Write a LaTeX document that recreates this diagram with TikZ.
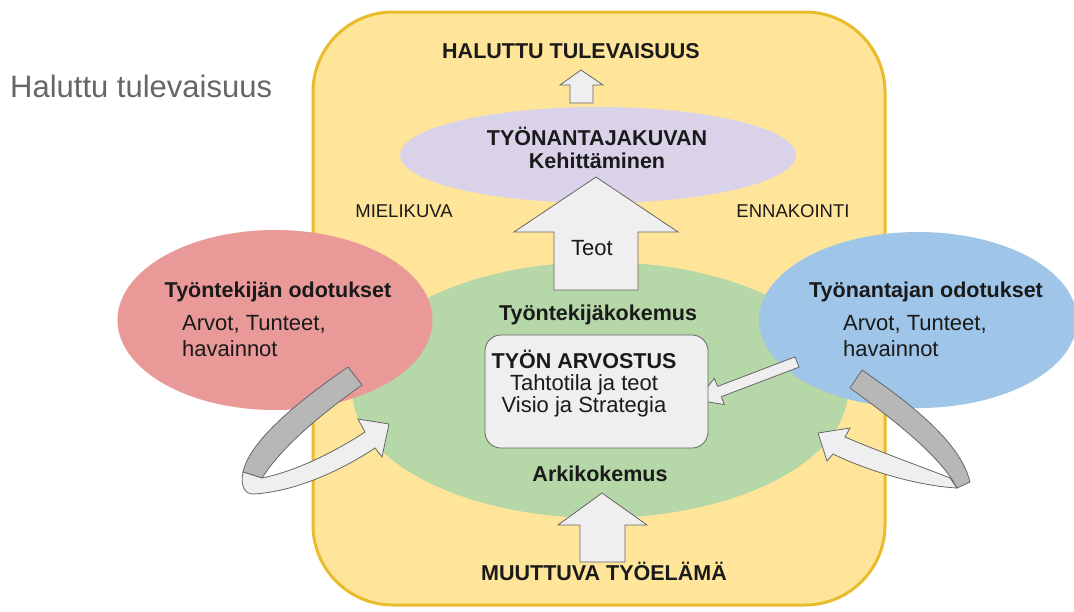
\documentclass[tikz,border=0pt]{standalone}
\usepackage{fontspec}
\setmainfont{Liberation Sans}
\usetikzlibrary{shapes.geometric}
\definecolor{frameYellow}{HTML}{FFE599}
\definecolor{frameEdge}{HTML}{E8BC2C}
\definecolor{lilac}{HTML}{D9D2E9}
\definecolor{leaf}{HTML}{B6D7A8}
\definecolor{rose}{HTML}{EA9999}
\definecolor{sky}{HTML}{9FC5E8}
\definecolor{paleGrey}{HTML}{EFEFEF}
\definecolor{midGrey}{HTML}{B7B7B7}
\definecolor{edgeGrey}{HTML}{666666}
\definecolor{ink}{HTML}{1A1A1A}
\tikzset{
  blob/.style={ellipse, draw=none, inner sep=0pt},
  blockarrow/.style={fill=paleGrey, draw=edgeGrey, line width=0.8pt, line join=miter},
  ribbonback/.style={fill=midGrey, draw=edgeGrey, line width=0.8pt, line join=round},
  ribbonfront/.style={fill=paleGrey, draw=edgeGrey, line width=0.8pt, line join=miter},
  head/.style={font=\fontsize{21.5}{25}\selectfont\bfseries, text=ink, inner sep=0pt, anchor=base},
  sub/.style={font=\fontsize{22}{26}\selectfont, text=ink, inner sep=0pt, anchor=base},
  side/.style={font=\fontsize{18.5}{22}\selectfont, text=ink, inner sep=0pt, anchor=base},
}
\begin{document}
\begin{tikzpicture}[x=1pt,y=-1pt]
\useasboundingbox (0,0) rectangle (1074,611);
\fill[white] (0,0) rectangle (1074,611);

% outer frame
\node[draw=frameEdge, fill=frameYellow, line width=3pt, rounded corners=80pt,
      minimum width=572pt, minimum height=593pt, inner sep=0pt] (frame) at (599,308.5) {};

% coloured areas
\node[blob, fill=lilac, minimum width=396pt, minimum height=96pt] (kuva) at (598,155) {};
\node[blob, fill=leaf, minimum width=496pt, minimum height=256pt] (kokemus) at (600,390) {};
\node[blob, fill=rose, minimum width=315pt, minimum height=180pt] (tekija) at (275,320) {};
\node[blob, fill=sky, minimum width=318pt, minimum height=176pt] (antaja) at (918,320) {};

% block arrows
\draw[blockarrow] (581,70) -- (603,85) -- (593,85) -- (593,103) -- (570,103) -- (570,85) -- (560,85) -- cycle;
\draw[blockarrow] (596,177) -- (678,232) -- (638,232) -- (638,290) -- (554,290) -- (554,232) -- (514,232) -- cycle;
\draw[blockarrow] (602,493) -- (647,525) -- (625,525) -- (625,562) -- (580,562) -- (580,525) -- (558,525) -- cycle;
\draw[blockarrow] (795,356.9) -- (717.5,386.4) -- (714.4,378.4) -- (697,400) -- (724.3,404.6) -- (721.4,396.7) -- (799,367.1) -- cycle;

% value box
\node[draw=edgeGrey, fill=paleGrey, line width=0.8pt, rounded corners=16pt,
      minimum width=223pt, minimum height=113pt, inner sep=0pt] (arvostus) at (596.5,391.5) {};

% turning ribbons
\draw[ribbonback] (348,367) .. controls (300,400) and (250,440) .. (243,472)
  -- (262,478) .. controls (285,442) and (330,408) .. (362,385) -- cycle;
\draw[ribbonfront] (243,472) .. controls (240,486) and (245,494) .. (253,494)
  .. controls (295,492) and (342,470) .. (375,448) -- (382,457) -- (389,424)
  -- (358,419) -- (365,432) .. controls (330,455) and (292,472) .. (262,478) -- cycle;
\draw[ribbonback] (862,370) .. controls (905,400) and (960,440) .. (970,482)
  -- (957,488) .. controls (940,455) and (890,417) .. (850,388) -- cycle;
\draw[ribbonfront] (957,488) .. controls (920,486) and (870,472) .. (833,454)
  -- (827,461) -- (818,433) -- (850,428) -- (845,437)
  .. controls (880,452) and (925,468) .. (950,478) -- cycle;

% texts
\node[font=\fontsize{31}{36}\selectfont, text=edgeGrey, inner sep=0pt, anchor=base west] (otsikko) at (10,97) {Haluttu tulevaisuus};
\node[head] (tulevaisuus) at (571,58) {HALUTTU TULEVAISUUS};
\node[head] (kuvaA) at (597,145) {TYÖNANTAJAKUVAN};
\node[head] (kuvaB) at (597,168) {Kehittäminen};
\node[side] (mielikuva) at (404,217.5) {MIELIKUVA};
\node[side] (ennakointi) at (793,217.5) {ENNAKOINTI};
\node[sub] (teot) at (592,255) {Teot};
\node[head] (tekijaA) at (278,297) {Työntekijän odotukset};
\node[sub, anchor=base west] (tekijaB) at (182,330) {Arvot, Tunteet,};
\node[sub, anchor=base west] (tekijaC) at (182,356) {havainnot};
\node[head] (antajaA) at (926,297) {Työnantajan odotukset};
\node[sub, anchor=base west] (antajaB) at (843,330) {Arvot, Tunteet,};
\node[sub, anchor=base west] (antajaC) at (843,356) {havainnot};
\node[head] (kokemusA) at (598,320) {Työntekijäkokemus};
\node[head] (arvA) at (584,368) {TYÖN ARVOSTUS};
\node[sub] (arvB) at (584,390) {Tahtotila ja teot};
\node[sub] (arvC) at (584,412) {Visio ja Strategia};
\node[head] (arki) at (600,481) {Arkikokemus};
\node[head] (muutos) at (604,580) {MUUTTUVA TYÖELÄMÄ};
\end{tikzpicture}
\end{document}
